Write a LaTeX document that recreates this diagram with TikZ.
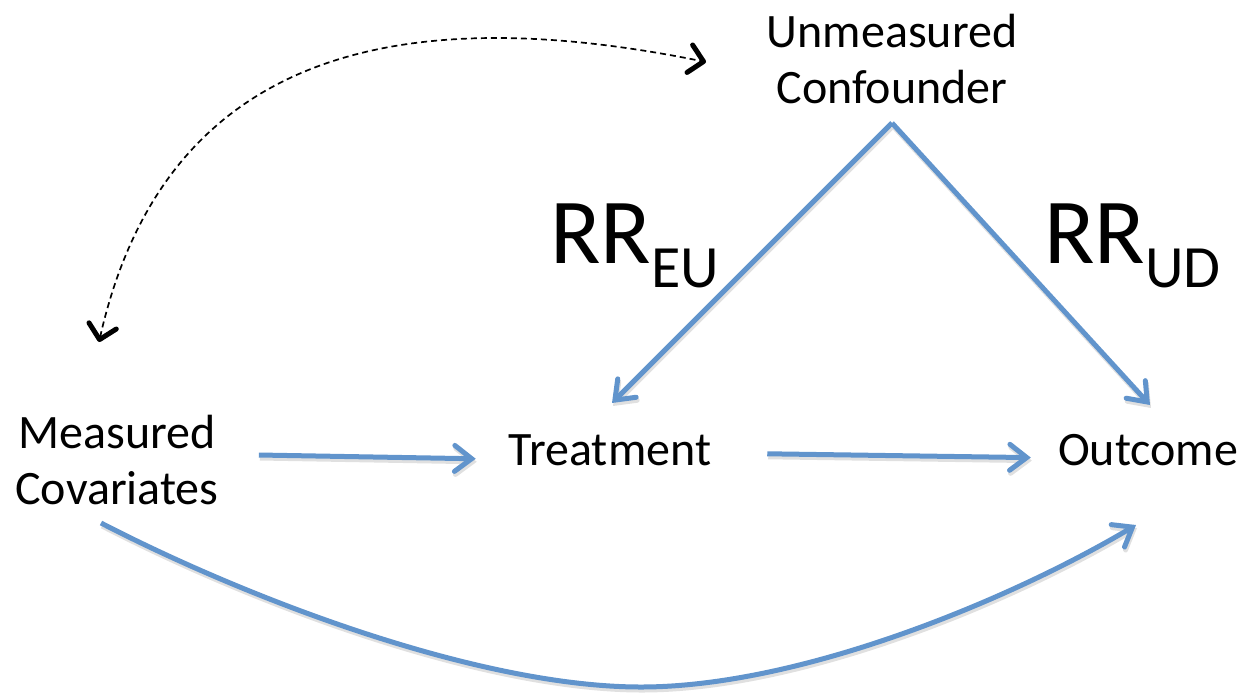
\documentclass[tikz,border=0pt]{standalone}
\usepackage{fontspec}
\setmainfont{Carlito}
\usetikzlibrary{arrows.meta}
\definecolor{arrowblue}{RGB}{97,148,204}
\tikzset{
  lbl/.style={inner sep=0pt, font=\fontsize{48}{56}\selectfont, align=center},
  bluearrow/.style={draw=arrowblue, line width=5pt,
     -{Straight Barb[length=17pt,width=26pt,line width=5pt,line cap=round]},
     preaction={draw=black!12, line width=5pt, transform canvas={xshift=1pt,yshift=-3pt}}},
  dtip/.tip={Straight Barb[length=14pt,width=28pt,line width=5pt 0,line cap=round,line join=round]},
  dasharrow/.style={draw=black, line width=1.7pt, dash pattern=on 6pt off 4pt, dtip-dtip}
}
\begin{document}
\begin{tikzpicture}[x=1pt,y=-1pt]
\useasboundingbox (0,0) rectangle (1247,694);
\node[lbl] (U) at (892,59) {Unmeasured\\Confounder};
\node[lbl] (M) at (117,460) {Measured\\Covariates};
\node[lbl, anchor=base] (T) at (610,465) {Treatment};
\node[lbl, anchor=base] (O) at (1148,465) {Outcome};
\node[inner sep=0pt, anchor=base west] (rreu) at (550,263)
  {\fontsize{93}{93}\selectfont RR\raisebox{-24pt}{\fontsize{60}{60}\selectfont EU}};
\node[inner sep=0pt, anchor=base west] (rrud) at (1044,263)
  {\fontsize{93}{93}\selectfont RR\raisebox{-24pt}{\fontsize{60}{60}\selectfont UD}};
\coordinate (Ubot) at (892,123);
\coordinate (Mtop) at (99,342);
\coordinate (Uleft) at (706,62);
\coordinate (Mbot) at (101,523);
\coordinate (Obot) at (1136,525);
% arrows
\draw[bluearrow] (Ubot) -- (612,403);
\draw[bluearrow] (Ubot) -- (1150,405);
\draw[bluearrow] ([xshift=40pt,yshift=5pt]M.east) -- ([xshift=-33pt,yshift=-9pt]T.west);
\draw[bluearrow] ([xshift=56pt,yshift=-4pt]T.east) -- ([xshift=-27pt,yshift=-8pt]O.west);
\draw[bluearrow] (Mbot) .. controls (250,600) and (480,687) .. (641,687)
  .. controls (800,687) and (1010,600) .. (Obot);
\draw[dasharrow] (Mtop) .. controls (165,50) and (400,0) .. (Uleft);
\end{tikzpicture}
\end{document}
